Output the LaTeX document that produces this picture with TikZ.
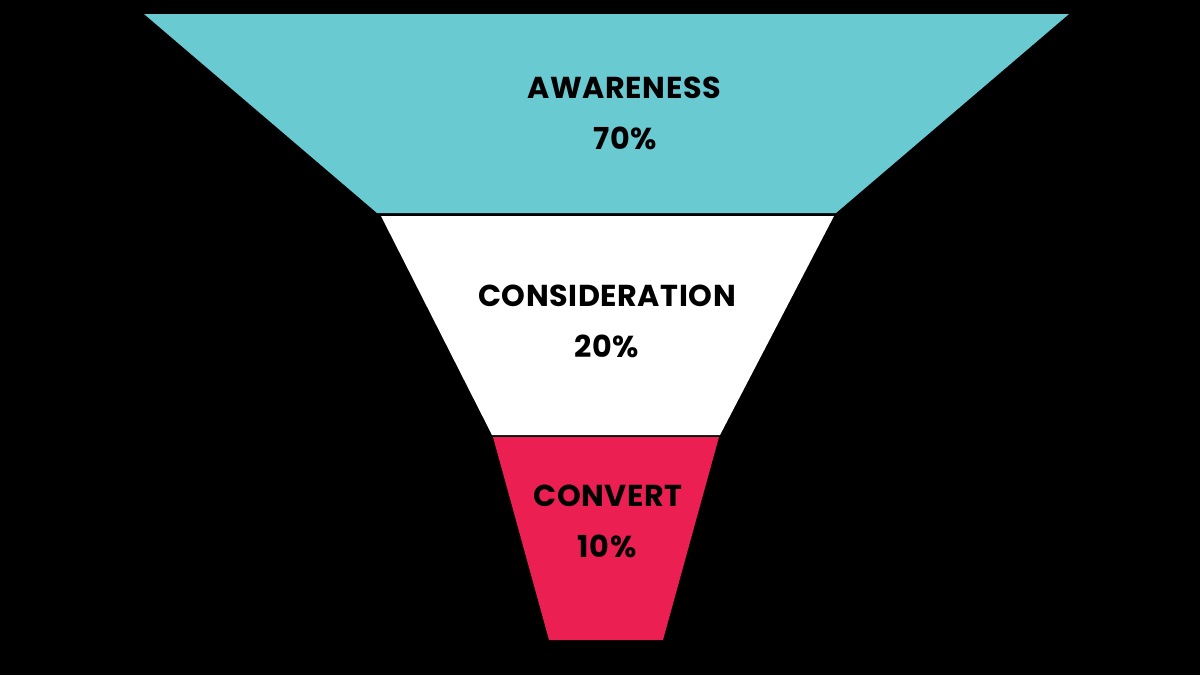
\documentclass[tikz,border=0pt]{standalone}
\usepackage{fontspec}
\setmainfont{Poppins}
\usepackage{xcolor}
\usepackage{tikz}
\usetikzlibrary{positioning}

\definecolor{funnelteal}{RGB}{106,202,210}
\definecolor{funnelred}{RGB}{236,31,82}

\begin{document}
\begin{tikzpicture}[x=0.01cm,y=-0.01cm,
  stage/.style={font=\fontsize{8.6}{9}\selectfont\bfseries\addfontfeature{LetterSpace=2},text=black,inner sep=0pt},
  pct/.style={font=\fontsize{8.6}{9}\selectfont\bfseries\addfontfeature{LetterSpace=2},text=black,inner sep=0pt}]
% background
\fill[black] (0,0) rectangle (1200,675);
\useasboundingbox (0,0) rectangle (1200,675);
% funnel
\fill[funnelteal] (144,14) -- (1069,14) -- (836,213) -- (377,213) -- cycle;
\fill[white] (381,216) -- (834,216) -- (720,435) -- (492,435) -- cycle;
\fill[funnelred] (493,437) -- (719,437) -- (663,640) -- (549,640) -- cycle;
% labels
\node[stage] (aw) at (624,88) {AWARENESS};
\node[pct] (awp) at (625,138) {70\%};
\node[stage] (con) at (607,296) {CONSIDERATION};
\node[pct] (conp) at (607,346) {20\%};
\node[stage] (cv) at (608,496) {CONVERT};
\node[pct] (cvp) at (607,546) {10\%};
\end{tikzpicture}
\end{document}
